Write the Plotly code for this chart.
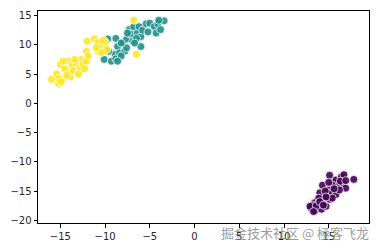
import plotly.graph_objects as go

# cluster 0 (purple)
x0 = [15.1, 15.8, 16.4, 16.7, 17.8, 16.0, 16.6, 16.9, 15.4, 14.9, 14.3, 15.3, 15.8, 14.5,
      14.0, 13.8, 14.3, 13.4, 13.0, 13.5, 14.2, 14.7, 15.1, 16.2, 13.9, 13.2, 12.9, 15.4,
      14.6, 15.0, 16.3, 13.6, 14.0, 15.6, 14.7, 16.9, 13.3, 14.4]
y0 = [-12.3, -13.1, -12.6, -12.2, -13.0, -14.2, -13.7, -14.5, -14.0, -14.8, -14.0, -15.3, -15.6, -15.9,
      -15.3, -16.4, -17.0, -17.0, -17.9, -18.3, -18.1, -17.6, -16.4, -14.8, -16.2, -17.4, -17.6, -16.2,
      -15.0, -13.5, -13.3, -17.5, -16.8, -14.6, -16.0, -13.2, -18.5, -17.4]

# cluster 1 (teal)
x1 = [-9.7, -8.8, -8.6, -8.0, -7.6, -7.3, -7.1, -6.8, -6.4, -6.2, -6.0, -5.8, -5.4, -5.2,
      -5.0, -4.5, -4.3, -4.1, -3.8, -3.4, -4.0, -8.9, -8.4, -7.8, -10.1, -9.3, -8.8, -8.2,
      -7.6, -6.9, -6.5, -6.0, -7.5, -6.7, -8.6, -8.2, -9.6]
y1 = [11.0, 11.1, 9.7, 10.4, 11.0, 12.6, 11.8, 13.1, 12.0, 13.1, 11.4, 12.5, 13.6, 12.2,
      13.7, 13.1, 12.0, 13.6, 12.6, 14.1, 14.2, 8.4, 8.6, 8.9, 7.5, 7.2, 7.6, 8.1,
      9.5, 10.6, 11.1, 9.7, 12.0, 10.3, 7.2, 10.3, 8.9]

# cluster 2 (yellow)
x2 = [-12.0, -11.2, -10.8, -10.4, -9.96, -9.8, -10.8, -10.4, -12.1, -11.0, -10.2,
      -16.0, -15.4, -15.2, -14.7, -15.0, -14.5, -14.1, -13.7, -13.9, -13.6, -13.2, -12.8,
      -12.6, -12.5, -12.1, -11.9, -12.3, -13.0, -13.4, -14.7, -14.3, -15.2, -14.9,
      -6.8, -6.5]
y2 = [10.6, 11.0, 10.4, 9.7, 10.4, 9.2, 8.9, 8.7, 8.9, 9.5, 10.8,
      4.1, 5.0, 3.4, 4.2, 6.7, 5.9, 7.2, 6.4, 4.5, 5.6, 7.0, 6.1,
      7.5, 6.7, 7.2, 8.1, 5.9, 5.0, 7.5, 7.2, 4.8, 4.2, 3.7,
      14.2, 8.4]

colors = ["#440154", "#21918c", "#fde725"]
xticks = [-15, -10, -5, 0, 5, 10, 15]
yticks = [-20, -15, -10, -5, 0, 5, 10, 15]

fig = go.Figure()
for xs, ys, c in [(x0, y0, colors[0]), (x1, y1, colors[1]), (x2, y2, colors[2])]:
    fig.add_trace(go.Scatter(
        x=xs, y=ys, mode="markers",
        marker=dict(size=8, color=c, opacity=0.9, line=dict(color="white", width=0.8)),
        showlegend=False))

axis_common = dict(showgrid=False, zeroline=False, showline=True, mirror=True,
                   linecolor="black", linewidth=1, ticks="outside", ticklen=3.5,
                   tickwidth=0.8, tickcolor="black",
                   tickfont=dict(family="DejaVu Sans", size=10, color="#262626"))

fig.update_layout(
    width=380, height=252,
    margin=dict(l=36, r=10, t=10, b=24),
    paper_bgcolor="white", plot_bgcolor="white",
    xaxis=dict(range=[-17.5, 19.5], tickvals=xticks, **axis_common),
    yaxis=dict(range=[-20.45, 15.78], tickvals=yticks, **axis_common),
)

fig.add_annotation(
    text="掘金技术社区 @ 極客飞龙", xref="paper", yref="paper",
    x=1.005, y=-0.046, xanchor="right", yanchor="middle", showarrow=False,
    font=dict(family="Noto Sans CJK SC", size=13, color="rgba(130,130,130,0.8)"))

fig.write_html("out.html")
